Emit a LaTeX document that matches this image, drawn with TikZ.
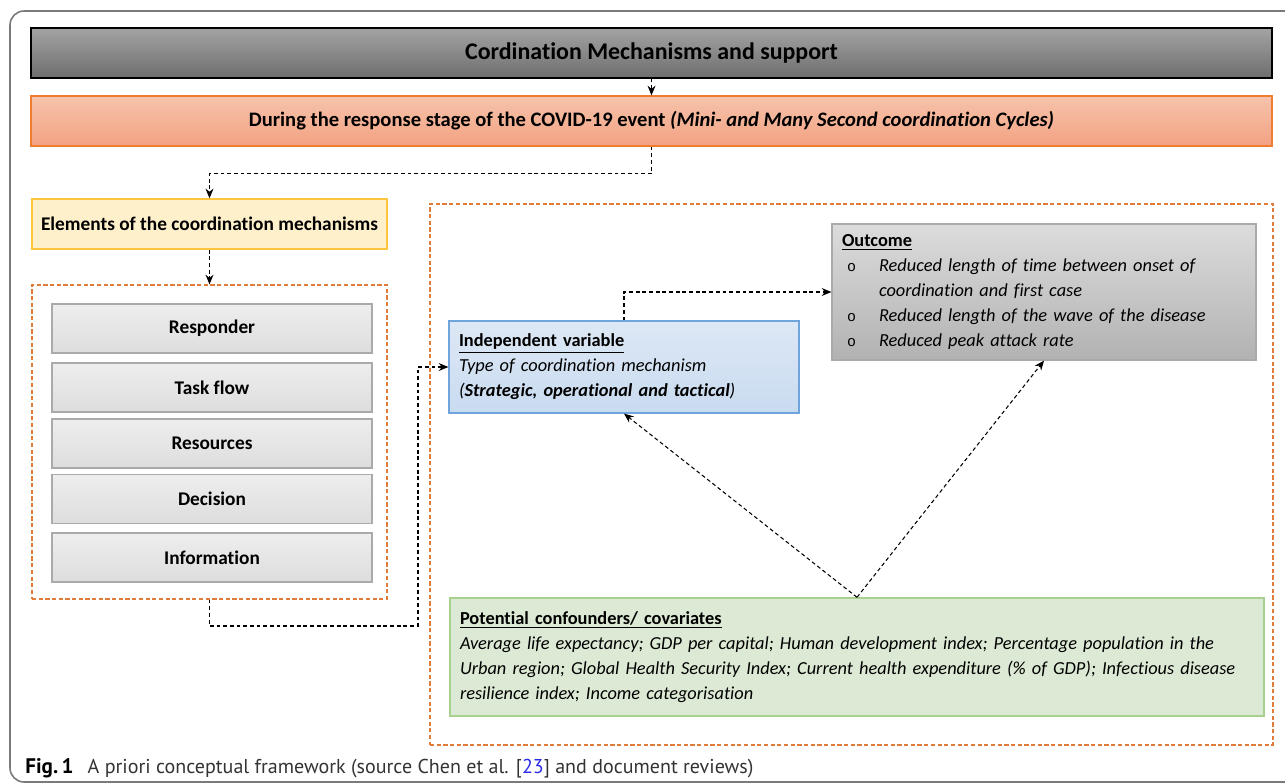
\documentclass[tikz,border=0pt]{standalone}
\usepackage{fontspec}
\setmainfont{Carlito}[Ligatures=TeX, RawFeature={-liga;-clig;-calt}]
\newfontfamily\capfont{PT Sans}
\newfontfamily\bulfont{Liberation Mono}
\usetikzlibrary{arrows.meta,positioning}

\definecolor{hdrtop}{HTML}{A3A3A3}
\definecolor{hdrbot}{HTML}{6E6E6E}
\definecolor{bandtop}{HTML}{F6C3AB}
\definecolor{bandbot}{HTML}{F3A282}
\definecolor{bandline}{HTML}{ED7D31}
\definecolor{yelfill}{HTML}{FFF0CC}
\definecolor{yelline}{HTML}{FFC53D}
\definecolor{eltop}{HTML}{EEEEEE}
\definecolor{elbot}{HTML}{DDDDDD}
\definecolor{elline}{HTML}{AAAAAA}
\definecolor{dashorange}{HTML}{E07B3A}
\definecolor{indtop}{HTML}{DDE8F5}
\definecolor{indbot}{HTML}{C9DBF0}
\definecolor{indline}{HTML}{6FA5DC}
\definecolor{outtop}{HTML}{DCDCDC}
\definecolor{outbot}{HTML}{B2B2B2}
\definecolor{confill}{HTML}{DCE9D4}
\definecolor{conline}{HTML}{A9D18E}
\definecolor{framegray}{HTML}{7A7A7A}
\definecolor{refblue}{HTML}{2B2BE8}

\newcommand{\bul}{\hspace*{0.1cm}\makebox[0.64cm][l]{\upshape\bulfont\fontsize{8.5}{12}\selectfont o}}

\tikzset{
	link/.style={draw=black, dash pattern=on 2.2pt off 1.6pt, line width=0.6pt, -{Stealth[length=5.5pt,width=4.5pt]}},
	dashframe/.style={draw=dashorange, dash pattern=on 2.4pt off 1.4pt, line width=0.7pt},
	elem/.style={draw=elline, line width=0.7pt, top color=eltop, bottom color=elbot, minimum width=6.4cm, minimum height=0.98cm, font=\bfseries\fontsize{11}{13}\selectfont},
	infobox/.style={align=left, inner xsep=0.2cm, inner ysep=0.1cm, font=\fontsize{10.45}{14.2}\selectfont}
}

\begin{document}
\begin{tikzpicture}[x=1cm, y=-1cm]
			%%%%% START %%%%%
			\useasboundingbox (0,0) rectangle (25.7,15.68);
			
			\draw[framegray, line width=0.9pt, rounded corners=8pt] (0.2,0.22) rectangle (26.4,15.64);
			
			% top bars
			\node[draw=black, line width=0.6pt, top color=hdrtop, bottom color=hdrbot, minimum width=24.82cm, minimum height=1cm, font=\bfseries\fontsize{13.6}{16}\selectfont] (header) at (13.03,1.06) {Cordination Mechanisms and support};
			\node[draw=bandline, line width=0.7pt, top color=bandtop, bottom color=bandbot, minimum width=24.82cm, minimum height=1cm, font=\bfseries\fontsize{11.7}{15}\selectfont] (band) at (13.03,2.42) {During the response stage of the COVID-19 event \textit{(Mini- and Many Second coordination Cycles)}};
			
			% left column
			\node[draw=yelline, line width=0.8pt, fill=yelfill, minimum width=7.1cm, minimum height=1cm, font=\bfseries\fontsize{11}{13}\selectfont] (elemhead) at (4.19,4.48) {Elements of the coordination mechanisms};
			\node[dashframe, minimum width=7.1cm, minimum height=6.28cm] (elembox) at (4.19,8.84) {};
			
			\node[elem] (responder) at (4.24,6.57) {Responder};
			\node[elem] (taskflow) at (4.24,7.75) {Task flow};
			\node[elem] (resources) at (4.24,8.87) {Resources};
			\node[elem] (decision) at (4.24,9.98) {Decision};
			\node[elem] (information) at (4.24,11.15) {Information};
			
			% right part
			\node[dashframe, minimum width=16.86cm, minimum height=10.82cm] (modelbox) at (17.03,9.49) {};
			
			\node[infobox, draw=indline, line width=0.7pt, top color=indtop, bottom color=indbot, minimum width=7cm, minimum height=1.84cm, text width=6.6cm] (indep) at (12.48,7.34) {\underline{\textbf{Independent variable}}\\\textit{Type of coordination mechanism}\\\textit{(\textbf{Strategic, operational and tactical})}};
			
			\node[infobox, draw=elline, line width=0.7pt, top color=outtop, bottom color=outbot, minimum width=8.48cm, minimum height=2.72cm, text width=8.08cm] (outcome) at (20.88,5.84) {\underline{\textbf{Outcome}}\\
				\bul\textit{Reduced length of time between onset of}\\
				\hspace*{0.74cm}\textit{coordination and first case}\\
				\bul\textit{Reduced length of the wave of the disease}\\
				\bul\textit{Reduced peak attack rate}};
			
			\node[infobox, draw=conline, line width=0.8pt, fill=confill, minimum width=16.28cm, minimum height=2.36cm, text width=15.88cm] (conf) at (17.14,13.14) {\underline{\textbf{Potential confounders/ covariates}}\\
				\mbox{\textit{Average life expectancy; GDP per capital; Human development index; Percentage population in the}}\\
				\mbox{\textit{Urban region; Global Health Security Index; Current health expenditure (\% of GDP); Infectious disease}}\\
				\mbox{\textit{resilience index; Income categorisation}}};
			
			% connectors
			\coordinate (lowturn) at (8.36,12.52);
			\draw[link] (header) -- (band);
			\draw[link] (band.south) -- ++(0,0.54) -| (elemhead.north);
			\draw[link] (elemhead) -- (elembox);
			\draw[link] (elembox.south) |- (lowturn) |- (indep.west);
			\draw[link] (indep.north) |- (outcome.west);
			\draw[link] (conf.north) -- (indep.south);
			\draw[link] (conf.north) -- (outcome.south);
			
			% caption
			\node[anchor=west, inner sep=0pt, text=black!80, font=\capfont\fontsize{11.4}{13}\selectfont] (caption) at (0.5,15.36) {\textbf{\color{black}\fontsize{12}{13}\selectfont Fig.\,1}\hspace{0.7em}A priori conceptual framework (source Chen et al. [\textcolor{refblue}{23}] and document reviews)};
			%%%%% END %%%%%
		\end{tikzpicture}
\end{document}
